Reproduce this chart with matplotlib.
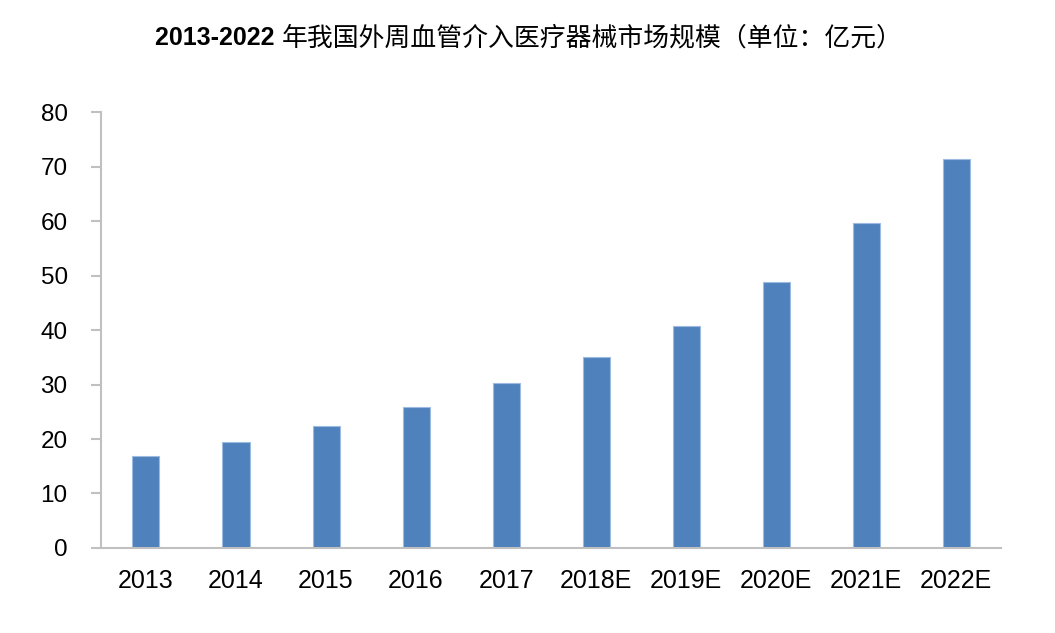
import matplotlib
matplotlib.use("Agg")
import matplotlib.pyplot as plt
import numpy as np

years = ['2013', '2014', '2015', '2016', '2017', '2018E', '2019E', '2020E', '2021E', '2022E']
market_size = [16.8, 19.4, 22.4, 25.9, 30.2, 35.1, 40.8, 48.8, 59.6, 71.4]
y_ticks = [0, 10, 20, 30, 40, 50, 60, 70, 80]

plt.rcParams['font.family'] = ['Liberation Sans', 'Noto Sans CJK SC', 'DejaVu Sans']

fig = plt.figure(figsize=(10.55, 6.33), dpi=100)
ax = fig.add_axes([0.0957, 0.1343, 0.8533, 0.6887])

x = np.arange(len(years))
ax.bar(x, market_size, width=0.3, color='#4F81BD', edgecolor='#9DBBE0', linewidth=0.8, zorder=2)

ax.set_xlim(-0.5, len(years) - 0.5)
ax.set_ylim(0, 80)
ax.set_yticks(y_ticks)
ax.set_xticks(x)
ax.set_xticklabels(years)

for side in ['top', 'right']:
    ax.spines[side].set_visible(False)
for side in ['left', 'bottom']:
    ax.spines[side].set_color('#C0C0C0')
    ax.spines[side].set_linewidth(1.5)

ax.tick_params(axis='y', length=7, width=1.5, color='#C0C0C0', labelsize=17.5, pad=17)
ax.tick_params(axis='x', length=0, labelsize=18, pad=15)

# title: bold digits followed by regular-weight Chinese
t1 = fig.text(0.147, 0.94, '2013-2022 ', ha='left', va='center',
              fontsize=18, fontweight='bold')
fig.canvas.draw()
bb = t1.get_window_extent(renderer=fig.canvas.get_renderer())
x_next = bb.x1 / fig.bbox.width
fig.text(x_next, 0.94, '年我国外周血管介入医疗器械市场规模（单位：亿元）',
         ha='left', va='center', fontsize=18.6, fontweight='medium',
         family=['Noto Sans CJK SC', 'DejaVu Sans'])

fig.savefig('out.png', dpi=100, facecolor='white')
